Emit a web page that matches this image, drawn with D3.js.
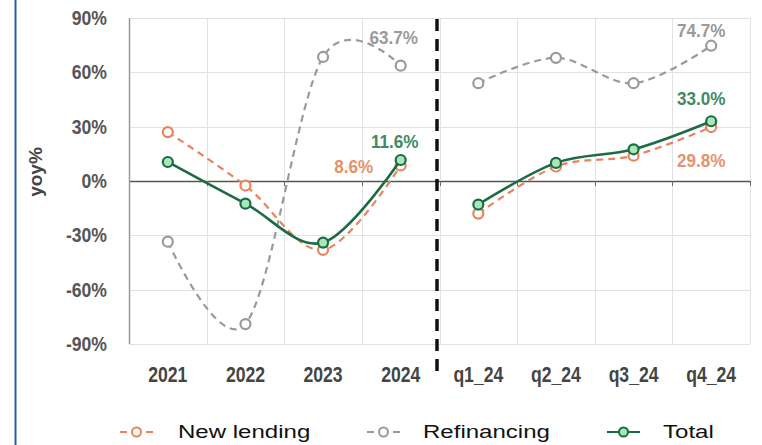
<!DOCTYPE html>
<html>
<head>
<meta charset="utf-8">
<script src="https://cdn.jsdelivr.net/npm/d3@7/dist/d3.min.js"></script>
<style>
  html, body { margin: 0; padding: 0; background: #fff; }
  svg { display: block; font-family: "Liberation Sans", Arial, sans-serif; }
</style>
</head>
<body>
<svg id="chart" width="762" height="445"></svg>
<script>
// ---- data ----
const categories = ["2021", "2022", "2023", "2024", "q1_24", "q2_24", "q3_24", "q4_24"];
const newLending = [27, -2.5, -38, 8.6, -18, 8, 14, 29.8];
const refinancing = [-33.5, -79, 68.5, 63.7, 54, 68, 54, 74.7];
const total = [10.5, -12.5, -34, 11.6, -13, 10, 17.5, 33.0];
const yTicks = [90, 60, 30, 0, -30, -60, -90];
const seriesNames = ["New lending", "Refinancing", "Total"];

// ---- layout / style ----
const W = 762, H = 445;
const m = { left: 129, right: 12, top: 18, bottom: 101 };
const colOrange = "#e8845c", colGray = "#9a9a9a", colGreen = "#1d6b45", colGreenFill = "#a6e8b8";

const svg = d3.select("#chart");
svg.append("rect").attr("width", W).attr("height", H).attr("fill", "#fff");
// left blue border
svg.append("line").attr("x1", 15.5).attr("x2", 15.5).attr("y1", 0).attr("y2", H)
  .attr("stroke", "#2b5ca8").attr("stroke-width", 2);

const x = d3.scaleBand().domain(categories).range([m.left, W - m.right]).padding(0);
const y = d3.scaleLinear().domain([-90, 90]).range([H - m.bottom, m.top]);
const cx = c => x(c) + x.bandwidth() / 2;

// gridlines
const g = svg.append("g");
g.selectAll("line.hg").data(yTicks).join("line")
  .attr("x1", m.left).attr("x2", W - m.right)
  .attr("y1", d => Math.round(y(d)) + 0.5).attr("y2", d => Math.round(y(d)) + 0.5)
  .attr("stroke", d => d === 0 ? "#555" : "#e2e2e2").attr("stroke-width", d => d === 0 ? 1.3 : 1);
const edges = categories.map(c => x(c)).concat([W - m.right]);
g.selectAll("line.vg").data(edges.slice(1)).join("line")
  .attr("x1", d => Math.round(d) + 0.5).attr("x2", d => Math.round(d) + 0.5)
  .attr("y1", m.top).attr("y2", H - m.bottom)
  .attr("stroke", "#e2e2e2");
// tick marks on zero line
g.selectAll("line.tk").data(edges.slice(1)).join("line")
  .attr("x1", d => Math.round(d) + 0.5).attr("x2", d => Math.round(d) + 0.5)
  .attr("y1", y(0)).attr("y2", y(0) + 5)
  .attr("stroke", "#666");
// left axis line
g.append("line").attr("x1", m.left + 0.5).attr("x2", m.left + 0.5)
  .attr("y1", m.top).attr("y2", H - m.bottom).attr("stroke", "#9a9a9a").attr("stroke-width", 1.5);

// y tick labels
svg.append("g").selectAll("text").data(yTicks).join("text")
  .attr("transform", d => `translate(107,${y(d) + 7}) scale(0.88,1)`)
  .attr("text-anchor", "end").attr("font-size", 20).attr("font-weight", "bold")
  .attr("fill", "#555").text(d => d + "%");

// x tick labels
svg.append("g").selectAll("text").data(categories).join("text")
  .attr("transform", d => `translate(${cx(d)},382) scale(0.8,1)`)
  .attr("text-anchor", "middle").attr("font-size", 22).attr("font-weight", "bold")
  .attr("fill", "#444").text(d => d);

// y axis title
svg.append("text").attr("transform", "translate(42,172) rotate(-90)")
  .attr("text-anchor", "middle").attr("font-size", 19).attr("font-weight", "bold")
  .attr("fill", "#444").text("yoy%");

// separator
svg.append("line").attr("x1", 437).attr("x2", 437).attr("y1", 19).attr("y2", 374)
  .attr("stroke", "#111").attr("stroke-width", 3.5).attr("stroke-dasharray", "12,8");

// series
const line = d3.line().x(d => cx(d.c)).y(d => y(d.v)).curve(d3.curveCardinal.tension(0));
function drawSeries(vals, stroke, width, dash, mfill) {
  const pts = categories.map((c, i) => ({ c, v: vals[i] }));
  const segs = [pts.slice(0, 4), pts.slice(4)];
  const gg = svg.append("g");
  gg.selectAll("path").data(segs).join("path")
    .attr("d", line).attr("fill", "none").attr("stroke", stroke)
    .attr("stroke-width", width).attr("stroke-dasharray", dash);
  gg.selectAll("circle").data(pts).join("circle")
    .attr("cx", d => cx(d.c)).attr("cy", d => y(d.v)).attr("r", 5)
    .attr("fill", mfill).attr("stroke", stroke).attr("stroke-width", 2.2);
}
drawSeries(refinancing, colGray, 2.2, "7,5", "#fff");
drawSeries(newLending, colOrange, 2.2, "7,5", "#fff");
drawSeries(total, colGreen, 2.6, null, colGreenFill);

// data labels
const labels = [
  { c: "2024", v: refinancing[3], dx: -7, dy: -22, col: "#9a9a9a" },
  { c: "2024", v: total[3], dx: -6, dy: -12, col: "#3f8a62" },
  { c: "2024", v: newLending[3], dx: -47, dy: 8, col: "#e8916a" },
  { c: "q4_24", v: refinancing[7], dx: -10, dy: -9, col: "#9a9a9a" },
  { c: "q4_24", v: total[7], dx: -10, dy: -16, col: "#3f8a62" },
  { c: "q4_24", v: newLending[7], dx: -10, dy: 40, col: "#e8916a" }
];
svg.append("g").selectAll("text").data(labels).join("text")
  .attr("transform", d => `translate(${cx(d.c) + d.dx},${y(d.v) + d.dy}) scale(0.9,1)`)
  .attr("text-anchor", "middle").attr("font-size", 19).attr("font-weight", "bold")
  .attr("fill", d => d.col).text(d => d.v.toFixed(1) + "%");

// legend
const legCols = [colOrange, colGray, colGreen];
const legDash = ["7,19,7", "7,19,7", null];
const legFill = ["#fff", "#fff", colGreenFill];
const legSymX = [120, 367, 607];
const legTextX = [178, 423, 663];
const lg = svg.append("g");
seriesNames.forEach((name, i) => {
  lg.append("line").attr("x1", legSymX[i]).attr("x2", legSymX[i] + 33)
    .attr("y1", 432).attr("y2", 432).attr("stroke", legCols[i]).attr("stroke-width", 2.2)
    .attr("stroke-dasharray", legDash[i]);
  lg.append("circle").attr("cx", legSymX[i] + 16.5).attr("cy", 432).attr("r", 4.5)
    .attr("fill", legFill[i]).attr("stroke", legCols[i]).attr("stroke-width", 2);
  lg.append("text").attr("transform", `translate(${legTextX[i]},438) scale(1.3,1)`)
    .attr("font-size", 18.5).attr("fill", "#111").text(name);
});
</script>
</body>
</html>
